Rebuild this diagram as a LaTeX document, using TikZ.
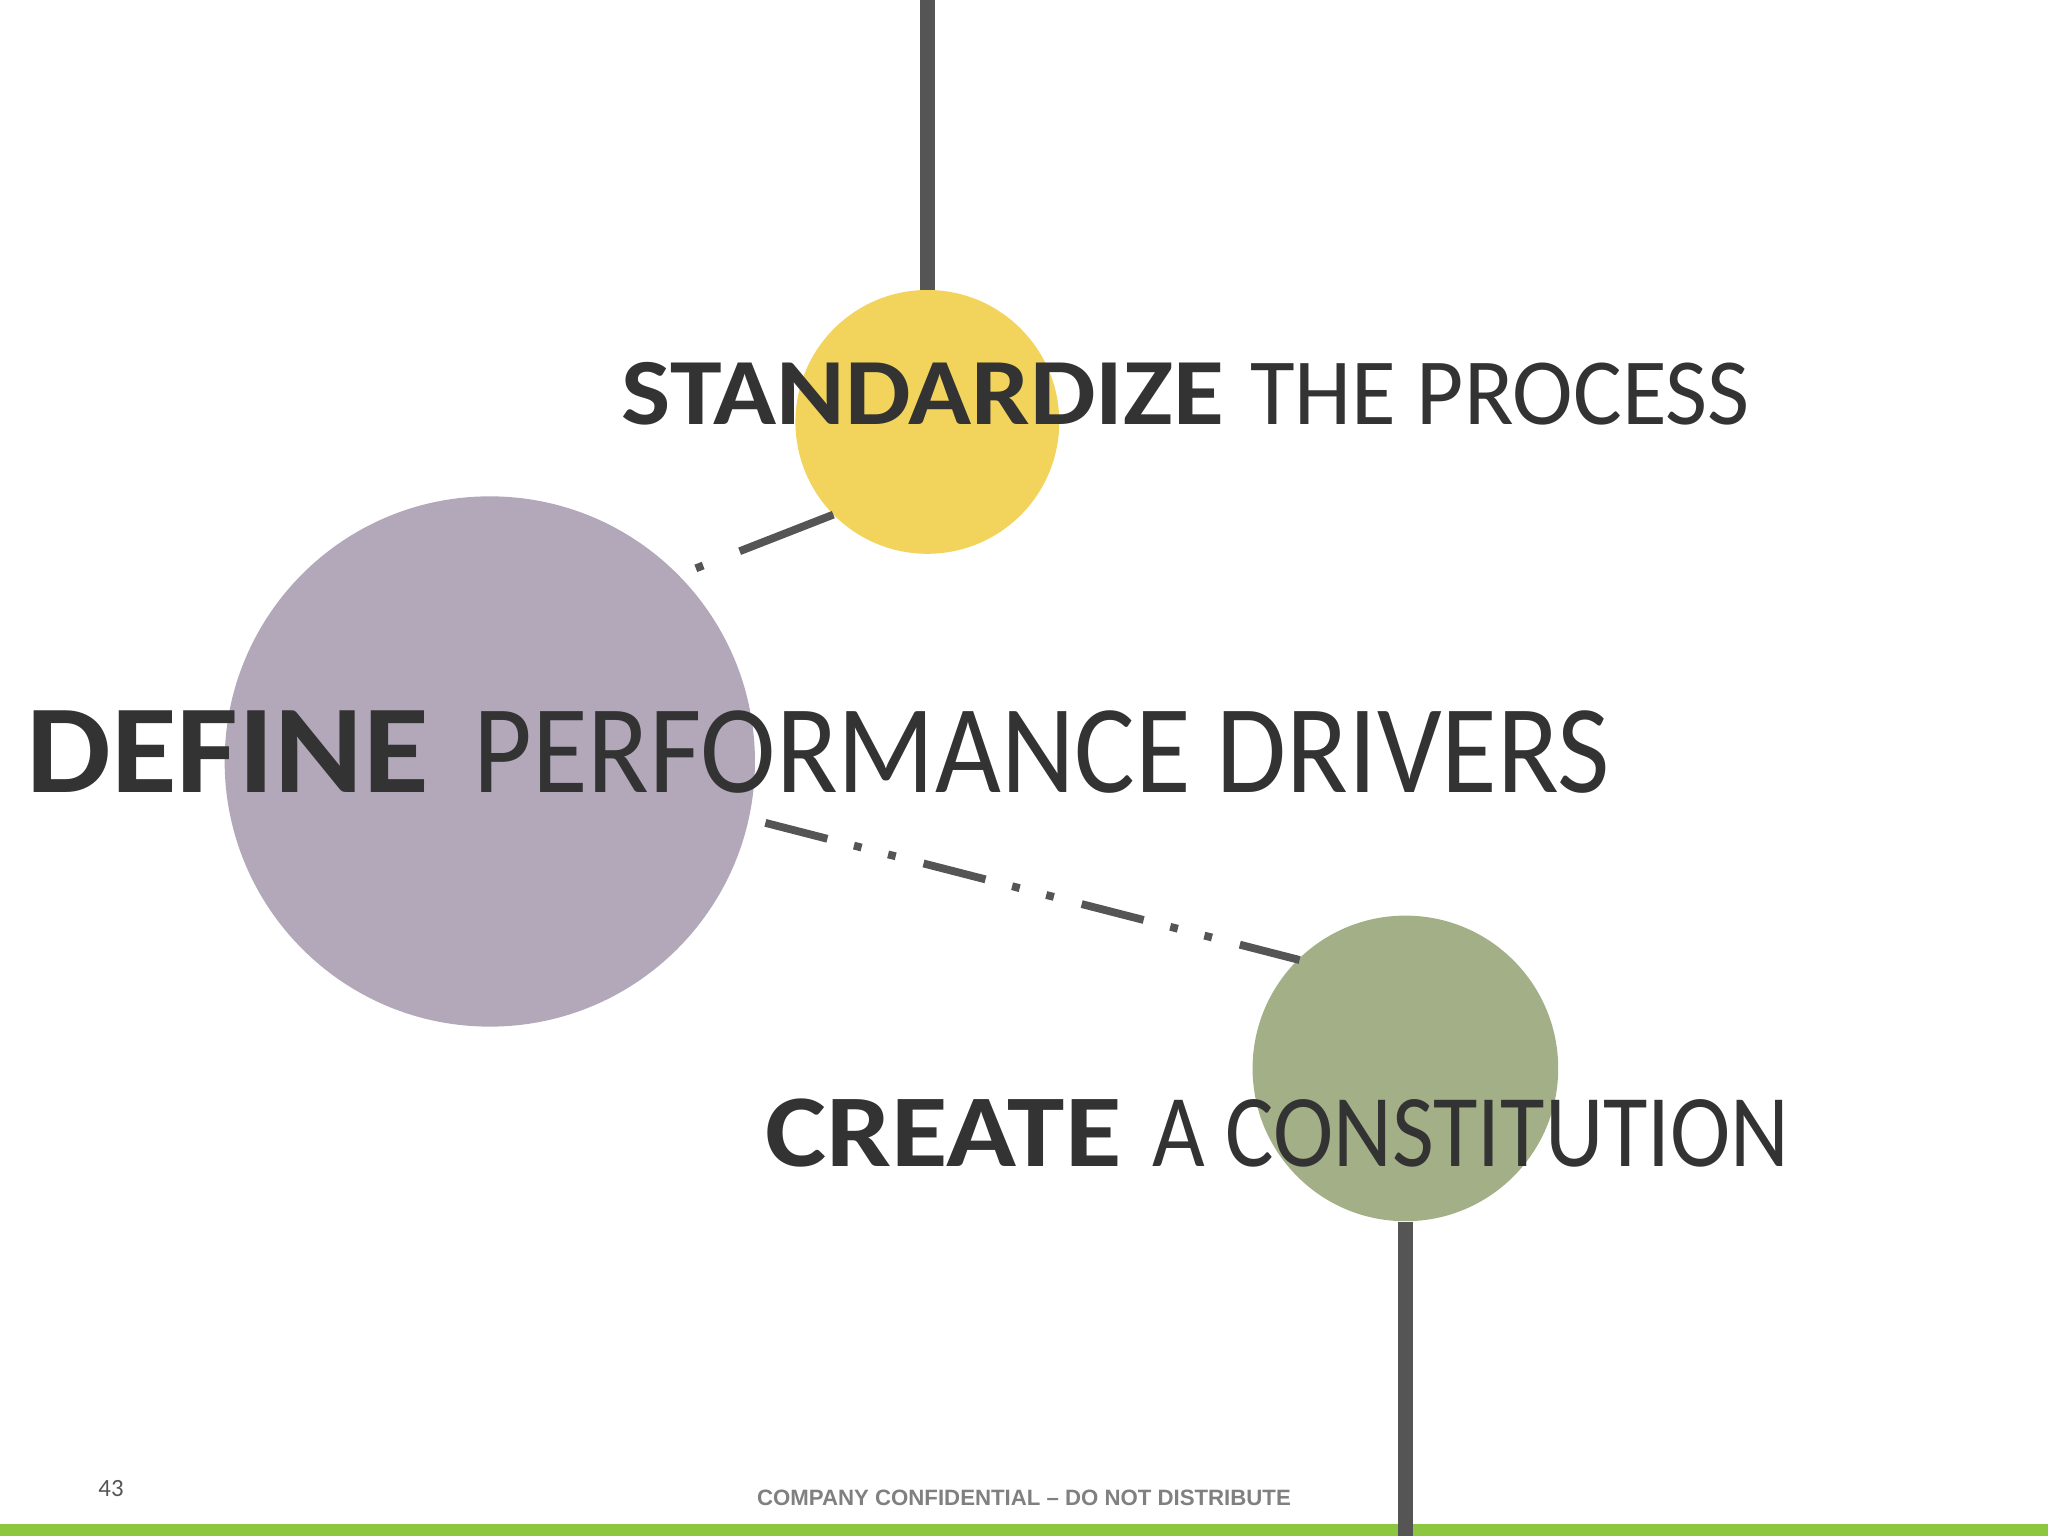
\documentclass[tikz,border=0pt]{standalone}
\usepackage{fontspec}
\usepackage{graphicx}
\setmainfont{Carlito}
\newfontfamily\arialf{Liberation Sans}
\definecolor{yel}{HTML}{F2D45C}
\definecolor{pur}{HTML}{B2A8B9}
\definecolor{grn}{HTML}{A3B087}
\definecolor{bar}{HTML}{8DC63F}
\definecolor{ln}{HTML}{555555}
\definecolor{tx}{HTML}{333333}
\tikzset{ball/.style={circle,inner sep=0pt,draw=none},
 stem/.style={ln,line width=12pt},
 conn/.style={ln,line width=6pt},
 lab/.style={anchor=base west,inner sep=0pt,text=tx}}
\begin{document}
\begin{tikzpicture}[x=1pt,y=-1pt]
\useasboundingbox[fill=white] (0,0) rectangle (1568,1176);
\fill[bar] (0,1167) rectangle (1568,1176);
\node[ball,fill=yel,minimum size=202pt] (Y) at (710,323) {};
\node[ball,fill=pur,minimum size=406pt] (P) at (375,583) {};
\node[ball,fill=grn,minimum size=234pt] (G) at (1076,818) {};
\coordinate (top) at (710,0);
\coordinate (bot) at (1076,1176);
\draw[stem] (top) -- (Y.north);
\draw[stem] (G.south) -- (bot);
\coordinate (y1) at (638,394);
\coordinate (p1) at (528,437);
\coordinate (p2) at (586,630);
\coordinate (g2) at (995,735);
\draw[conn,dash pattern=on 77pt off 30pt on 6pt off 100pt] (y1) -- (p1);
\draw[conn,dash pattern=on 49pt off 21pt on 6pt off 21pt on 6pt off 22pt] (p2) -- (g2);
\node[lab,font=\fontsize{72.6}{72.6}\selectfont] (t1) at (476,325) {\scalebox{1.098}[1]{\textbf{STANDARDIZE}}\hspace{20pt}\scalebox{0.964}[1]{THE PROCESS}};
\node[lab,font=\fontsize{96.5}{96.5}\selectfont] (t2) at (20,607) {\scalebox{1.068}[1]{\textbf{DEFINE}}\hspace{34pt}\scalebox{0.903}[1]{PERFORMANCE DRIVERS}};
\node[lab,font=\fontsize{79}{79}\selectfont] (t3) at (586,893) {\scalebox{1.12}[1]{\textbf{CREATE}}\hspace{24pt}\scalebox{0.881}[1]{A CONSTITUTION}};
\node[anchor=base,inner sep=0pt,text=ln,font=\fontsize{19}{19}\selectfont] (n) at (85,1146) {43};
\node[anchor=base,inner sep=0pt,text=gray,font=\arialf\bfseries\fontsize{17}{17}\selectfont] (c) at (784,1153) {COMPANY CONFIDENTIAL – DO NOT DISTRIBUTE};
\end{tikzpicture}
\end{document}
